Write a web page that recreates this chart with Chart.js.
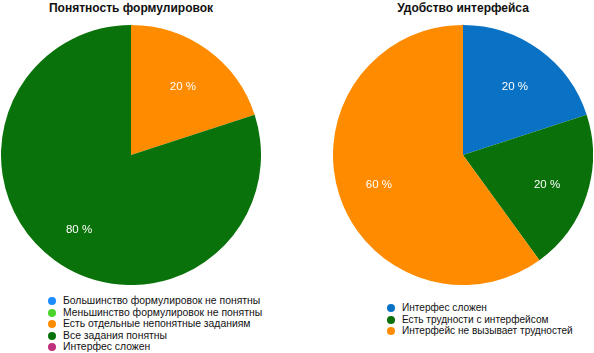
<!DOCTYPE html>
<html>
<head>
<meta charset="utf-8">
<script src="https://cdn.jsdelivr.net/npm/chart.js@4/dist/chart.umd.min.js"></script>
<style>
  html, body { margin: 0; padding: 0; background: #fff; }
  #wrap { position: relative; width: 594px; height: 353px; overflow: hidden; font-family: "Liberation Sans", Arial, sans-serif; }
  .title { position: absolute; top: 1px; font-weight: bold; font-size: 12px; color: #111; text-align: center; line-height: 14px; }
  .pie { position: absolute; }
  .legend { position: absolute; font-size: 10.4px; color: #111; line-height: 11.6px; }
  .legend div { white-space: nowrap; position: relative; padding-left: 15px; }
  .legend span.dot { position: absolute; left: 0; top: 2px; width: 8px; height: 8px; border-radius: 50%; }
</style>
</head>
<body>
<div id="wrap">
  <div class="title" id="t1" style="left:0; width:262px;"></div>
  <div class="title" id="t2" style="left:332px; width:262px;"></div>
  <canvas id="c1" class="pie" style="left:1px; top:25px;" width="260" height="260"></canvas>
  <canvas id="c2" class="pie" style="left:333px; top:25px;" width="260" height="260"></canvas>
  <div class="legend" id="l1" style="left:48px; top:295px;"></div>
  <div class="legend" id="l2" style="left:387px; top:302px; font-size:10.1px;"></div>
</div>
<script>
const title1 = "Понятность формулировок";
const labels1 = ["Большинство формулировок не понятны", "Меньшинство формулировок не понятны", "Есть отдельные непонятные заданиям", "Все задания понятны", "Интерфес сложен"];
const values1 = [0, 0, 20, 80, 0];
const colors1 = ["#1a8cff", "#4cd42a", "#ff8c00", "#0a720a", "#c0307a"];

const title2 = "Удобство интерфейса";
const labels2 = ["Интерфес сложен", "Есть трудности с интерфейсом", "Интерфейс не вызывает трудностей"];
const values2 = [20, 20, 60];
const colors2 = ["#0a72c4", "#0a700a", "#ff8c00"];

document.getElementById('t1').textContent = title1;
document.getElementById('t2').textContent = title2;

function buildLegend(id, labels, colors) {
  const el = document.getElementById(id);
  labels.forEach((l, i) => {
    const d = document.createElement('div');
    const s = document.createElement('span');
    s.className = 'dot';
    s.style.background = colors[i];
    d.appendChild(s);
    d.appendChild(document.createTextNode(l));
    el.appendChild(d);
  });
}
buildLegend('l1', labels1, colors1);
buildLegend('l2', labels2, colors2);

const pctLabels = {
  id: 'pctLabels',
  afterDatasetsDraw(chart) {
    const ctx = chart.ctx;
    const meta = chart.getDatasetMeta(0);
    const data = chart.data.datasets[0].data;
    const total = data.reduce((a, b) => a + b, 0);
    ctx.save();
    ctx.fillStyle = '#fff';
    ctx.font = '11.5px "Liberation Sans", Arial, sans-serif';
    ctx.textAlign = 'center';
    ctx.textBaseline = 'middle';
    meta.data.forEach((arc, i) => {
      const v = data[i];
      if (!v) return;
      const p = arc.getProps(['x', 'y', 'startAngle', 'endAngle', 'outerRadius'], true);
      const mid = (p.startAngle + p.endAngle) / 2;
      const r = p.outerRadius * 0.68;
      ctx.fillText(Math.round(v / total * 100) + ' %', p.x + Math.cos(mid) * r, p.y + Math.sin(mid) * r + 3);
    });
    ctx.restore();
  }
};

function makePie(id, labels, values, colors) {
  new Chart(document.getElementById(id), {
    type: 'pie',
    data: { labels: labels, datasets: [{ data: values, backgroundColor: colors, borderWidth: 0 }] },
    options: {
      responsive: false,
      animation: false,
      layout: { padding: 0 },
      plugins: { legend: { display: false }, tooltip: { enabled: false }, title: { display: false } }
    },
    plugins: [pctLabels]
  });
}
makePie('c1', labels1, values1, colors1);
makePie('c2', labels2, values2, colors2);
</script>
</body>
</html>
